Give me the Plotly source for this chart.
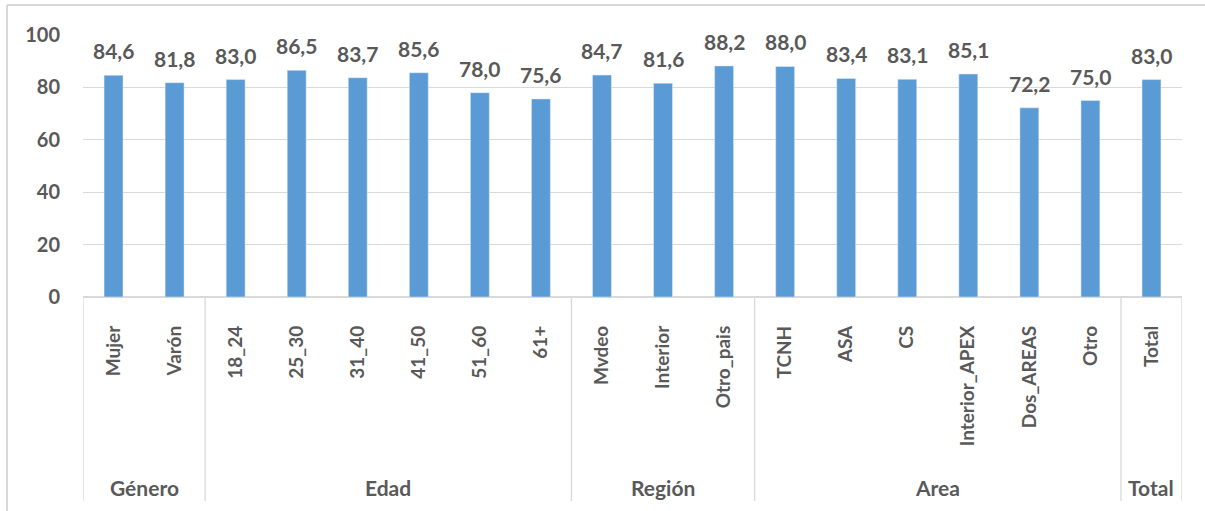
import plotly.graph_objects as go

categories = ["Mujer", "Varón", "18_24", "25_30", "31_40", "41_50", "51_60", "61+",
              "Mvdeo", "Interior", "Otro_pais", "TCNH", "ASA", "CS", "Interior_APEX",
              "Dos_AREAS", "Otro", "Total"]
values = [84.6, 81.8, 83.0, 86.5, 83.7, 85.6, 78.0, 75.6,
          84.7, 81.6, 88.2, 88.0, 83.4, 83.1, 85.1, 72.2, 75.0, 83.0]
groups = ["Género", "Edad", "Región", "Area", "Total"]
group_sizes = [2, 6, 3, 6, 1]

BAR = "#5B9BD5"
TXT = "#595959"
GRID = "#D9D9D9"
FONT = "Lato"

W, H = 1205, 511
# plot-area pixel box
PX0, PX1, PY_TOP, PY_BOT = 83, 1182, 35, 297


def px_x(p):
    return p / W


def px_y(p):
    return (H - p) / H


fig = go.Figure()
fig.add_trace(go.Bar(x=categories, y=values, marker_color=BAR, width=0.31,
                     hoverinfo="skip"))

# value labels
for c, v in zip(categories, values):
    fig.add_annotation(x=c, y=v, xref="x", yref="y", text=f"{v:.1f}".replace(".", ","),
                       showarrow=False, yanchor="bottom", yshift=10,
                       font=dict(family=FONT, size=21, color=TXT, weight="bold"))

# group dividers and labels
shapes = []
start = 0
bounds = [-0.5]
for g, n in zip(groups, group_sizes):
    end = start + n
    bounds.append(end - 0.5)
    fig.add_annotation(x=(start + end - 1) / 2, y=px_y(487), xref="x", yref="paper",
                       text=g, showarrow=False, yanchor="middle",
                       font=dict(family=FONT, size=21, color=TXT, weight="bold"))
    start = end
for b in bounds:
    shapes.append(dict(type="line", xref="x", yref="paper", x0=b, x1=b,
                       y0=px_y(PY_BOT), y1=px_y(501), line=dict(color=GRID, width=1.3)))

# chart-area frame: top and left edges (right/bottom run off the page)
shapes.append(dict(type="line", xref="paper", yref="paper", x0=px_x(7), x1=px_x(7),
                   y0=px_y(5), y1=px_y(H + 20), line=dict(color=GRID, width=2)))
shapes.append(dict(type="line", xref="paper", yref="paper", x0=px_x(7), x1=px_x(W + 20),
                   y0=px_y(5), y1=px_y(5), line=dict(color=GRID, width=2)))

fig.update_layout(
    width=W, height=H,
    margin=dict(l=0, r=0, t=0, b=0, autoexpand=False),
    plot_bgcolor="white", paper_bgcolor="white",
    showlegend=False,
    shapes=shapes,
    xaxis=dict(type="category", tickangle=-90, showgrid=False, showline=True,
               domain=[px_x(PX0), px_x(PX1)], automargin=False,
               linecolor=GRID, linewidth=1.3, ticks="", ticklabelstandoff=20,
               tickfont=dict(family=FONT, size=19, color=TXT, weight="bold"),
               range=[-0.5, len(categories) - 0.5]),
    yaxis=dict(range=[0, 100], dtick=20, showgrid=True, gridcolor=GRID, gridwidth=1.3,
               domain=[px_y(PY_BOT), px_y(PY_TOP)], automargin=False,
               zeroline=True, zerolinecolor=GRID, showline=False, ticks="",
               ticklabelstandoff=22,
               tickfont=dict(family=FONT, size=20, color=TXT, weight="bold")),
)

fig.write_html("out.html", config={"displayModeBar": False},
               post_script="document.body.style.margin='0';document.body.style.overflow='hidden';")
